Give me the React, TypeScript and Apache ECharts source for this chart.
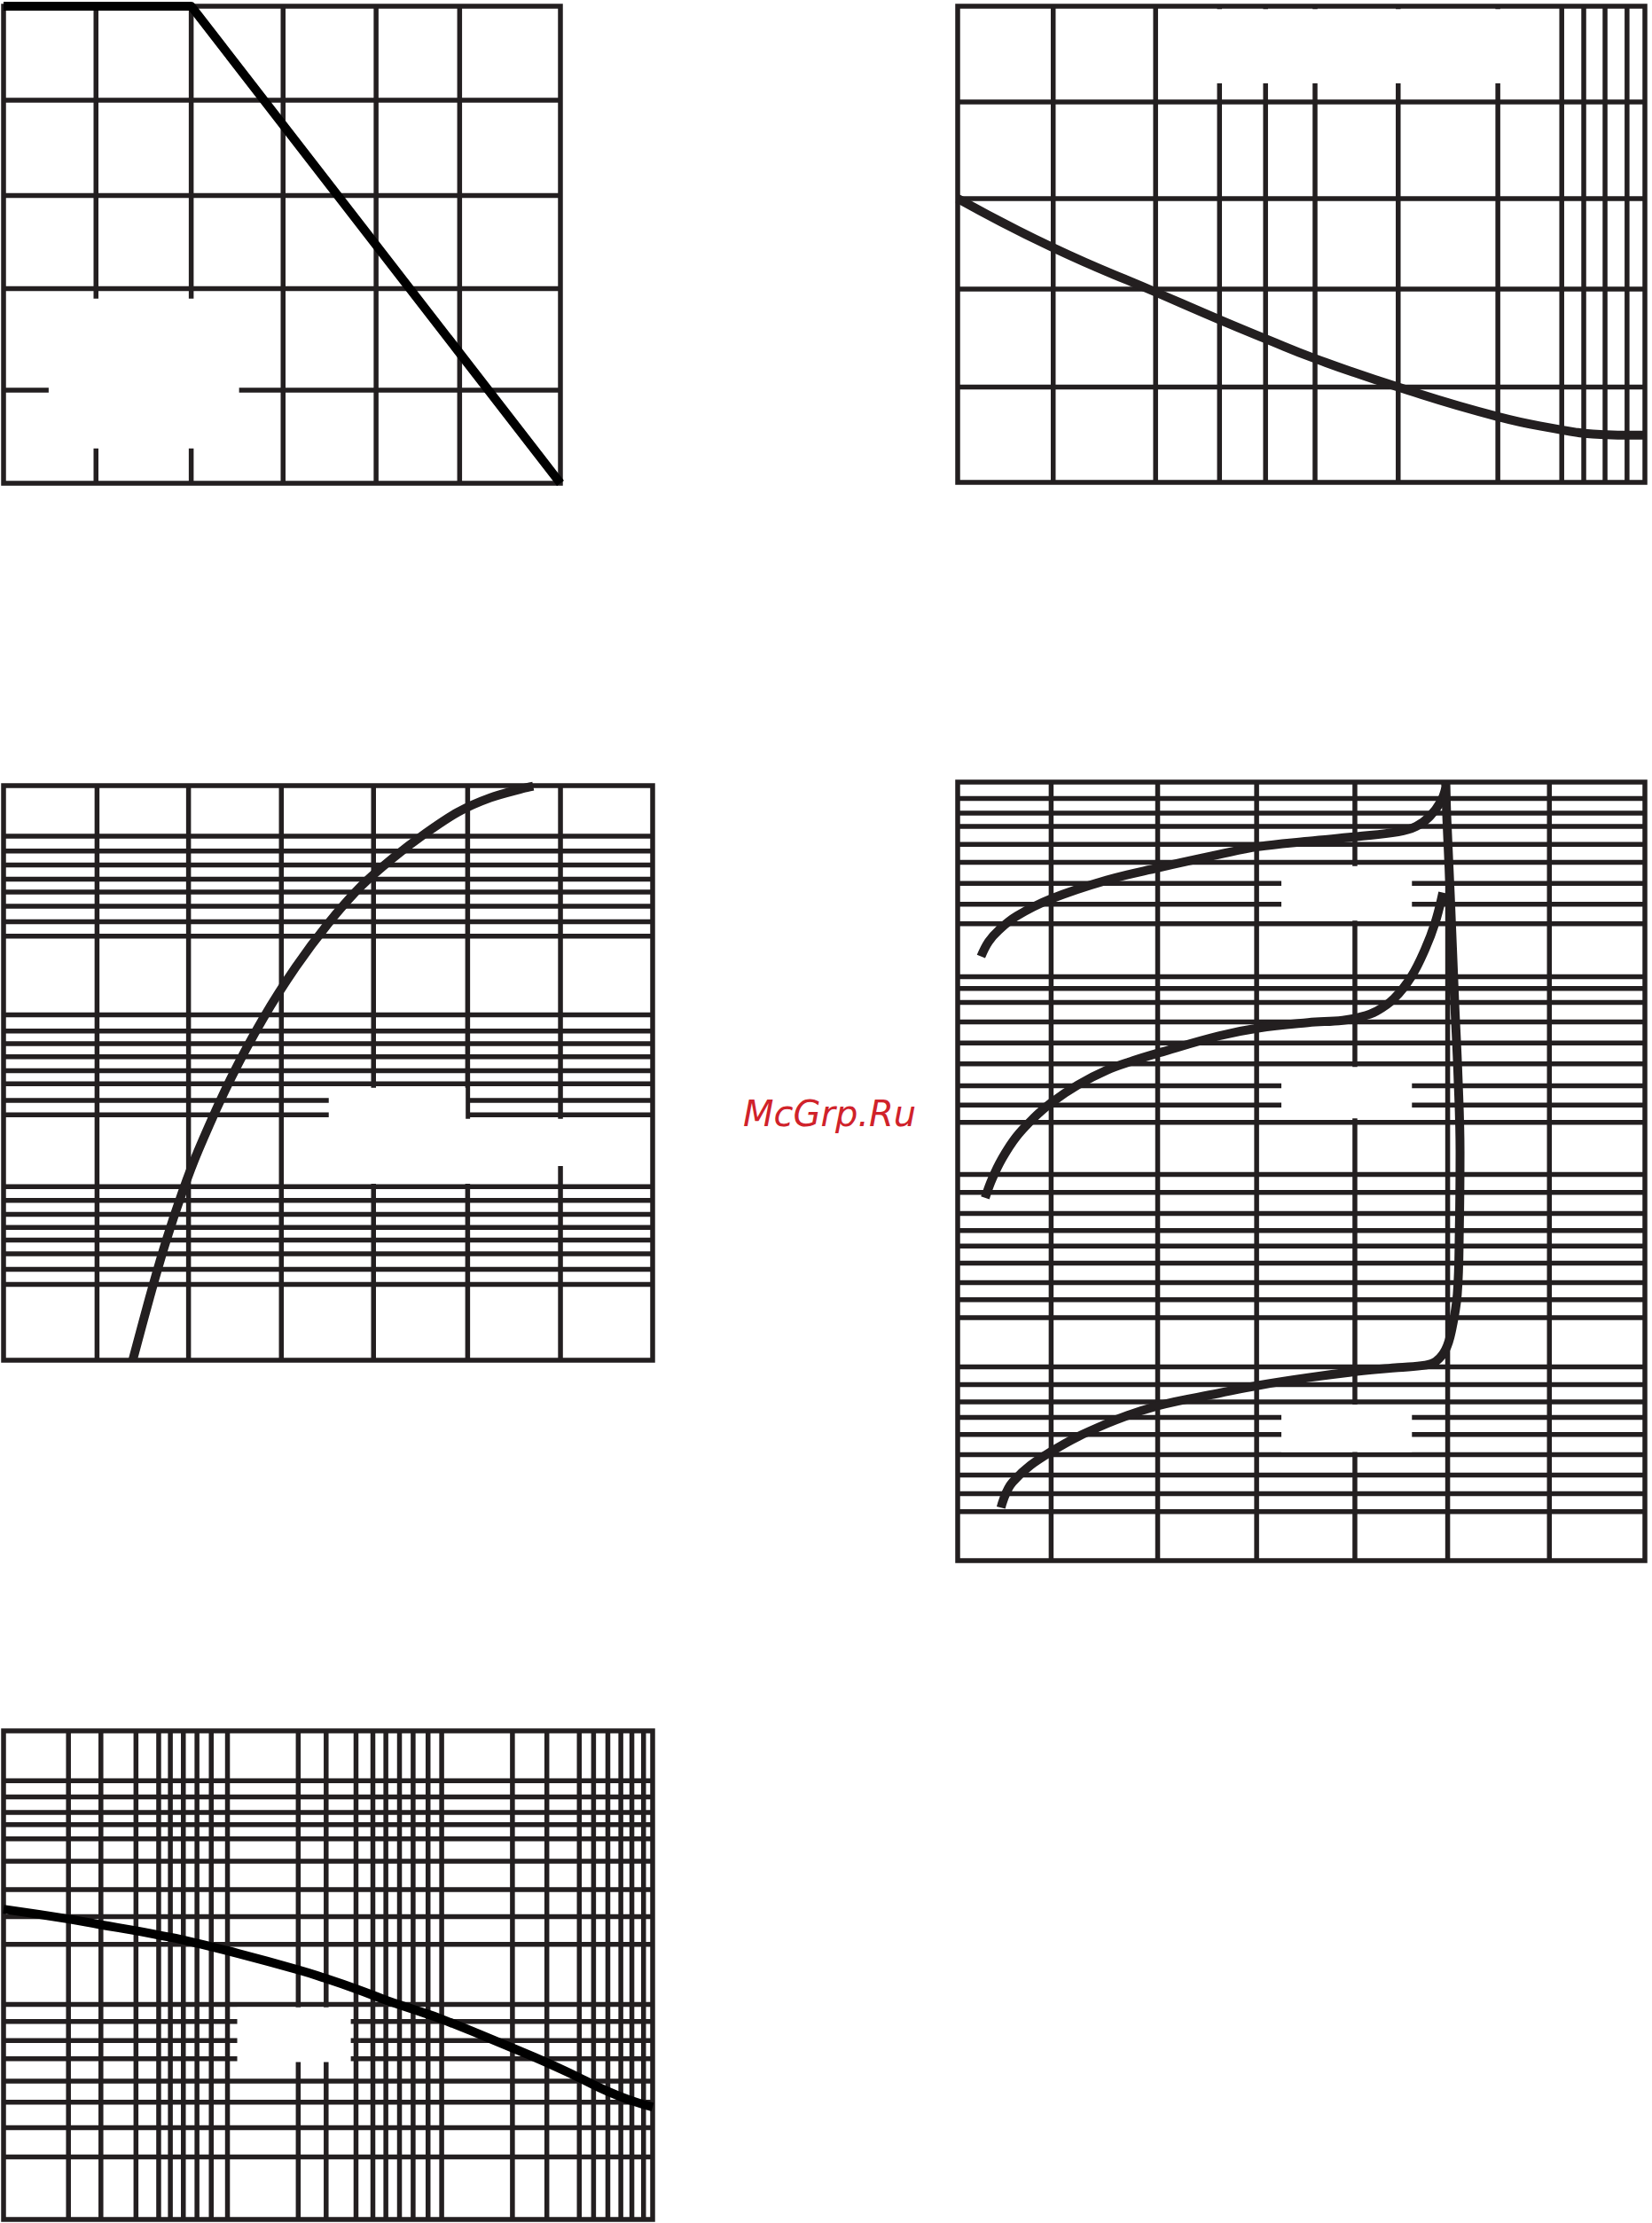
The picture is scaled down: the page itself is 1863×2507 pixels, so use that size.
import React, { useEffect, useRef } from "react";
import * as echarts from "echarts";

// ---------- data (positions in % of each panel; y measured from the top) ----------
// Panel 1 (top-left)
const p1VLines = [16.6, 33.7, 50.2, 66.9, 81.9];
const p1HLines = [19.7, 39.7, 59.2, 80.5];
const p1Blanks = [[8.1, 61.3, 42.3, 92.7]];
const p1CurveX = [0, 33.7, 100];
const p1CurveY = [0, 0, 100];

// Panel 2 (top-right)
const p2VLines = [13.9, 28.8, 38.1, 44.8, 52.0, 64.1, 78.6, 87.9, 91.1, 94.2, 97.4];
const p2HLines = [20.1, 40.4, 59.4, 80.0];
const p2Blanks = [[29.3, 0.6, 87.4, 16.2]];
const p2CurveX = [0, 14.0, 28.9, 38.2, 44.9, 52.0, 64.1, 78.6, 87.9, 91.2, 94.4, 97.7, 100];
const p2CurveY = [40.4, 50.8, 60.1, 65.9, 69.9, 74.0, 80.0, 86.2, 89.0, 89.7, 90.0, 90.1, 90.1];

// Panel 3 (middle-left)
const p3VLines = [14.4, 28.5, 42.8, 57.0, 71.5, 85.8];
const p3HLines = [
  8.8, 11.4, 13.8, 16.3, 18.5, 21.0, 23.7, 26.2,
  39.9, 42.7, 44.9, 47.2, 49.6, 51.9, 54.8, 57.3,
  69.8, 72.2, 74.6, 76.9, 79.1, 81.5, 84.2, 86.8,
];
const p3Blanks = [
  [50.1, 52.6, 71.2, 58.6],
  [43.4, 58.0, 99.5, 66.2],
  [43.4, 65.8, 85.3, 69.3],
];
const p3CurveX = [19.9, 22.5, 25, 27.5, 30, 35, 40, 45, 50, 55, 60, 65, 70, 75, 80, 81.6];
const p3CurveY = [100, 89.1, 79.4, 70.9, 63.5, 51.0, 40.5, 31.6, 24.0, 17.6, 12.6, 8.3, 4.6, 2.1, 0.5, 0.1];

// Panel 4 (middle-right)
const p4VLines = [13.6, 29.1, 43.5, 57.8, 71.3, 86.1];
const p4HLines = [
  2.1, 4.0, 5.7, 8.0, 10.3, 13.0, 15.7, 18.2,
  25.0, 26.5, 28.3, 30.8, 33.5, 36.2, 39.0, 41.5, 43.7,
  50.4, 52.7, 55.4, 57.6, 59.6, 61.8, 64.3, 66.5, 68.8,
  75.1, 77.4, 79.6, 81.6, 83.8, 86.4, 89.0, 91.4, 93.7,
];
const p4Blanks = [
  [47.1, 10.8, 66.1, 17.8],
  [47.1, 36.6, 66.1, 43.2],
  [47.1, 79.95, 66.1, 86.05],
];
const p4Curve1X = [3.4, 4.5, 6.0, 8.6, 13.6, 21.7, 29.2, 38.0, 43.7, 51.0, 58.1, 64.1, 66.7, 68.7, 70.3, 71.0];
const p4Curve1Y = [22.4, 20.5, 19.0, 17.2, 15.0, 12.6, 11.0, 9.3, 8.3, 7.6, 7.0, 6.4, 5.7, 4.4, 2.5, 0.8];
const p4Curve2X = [4.0, 5.0, 6.5, 8.5, 11.0, 13.6, 17.5, 21.7, 25.5, 29.2, 38.0, 43.7, 51.0, 56.0, 58.5, 61.0, 63.5, 66.0, 68.0, 69.5, 70.6];
const p4Curve2Y = [53.4, 51.0, 48.3, 45.6, 43.2, 41.2, 38.9, 37.0, 35.8, 34.8, 32.6, 31.6, 30.9, 30.6, 30.2, 29.4, 27.8, 25.0, 21.5, 18.0, 14.2];
const p4Curve3X = [6.3, 8.0, 13.6, 21.7, 29.2, 38.0, 43.7, 51.0, 58.1, 64.1, 68.0, 69.6, 71.0, 71.9, 72.7, 73.0, 73.1, 72.8, 72.3, 71.7, 71.2, 71.0];
const p4Curve3Y = [93.2, 89.9, 86.0, 82.4, 80.1, 78.5, 77.5, 76.5, 75.7, 75.2, 74.9, 74.4, 72.9, 70.3, 65.8, 57.3, 47.5, 37.7, 27.9, 14.9, 5.1, 0];

// Panel 5 (bottom-left)
const p5VLines = [
  10.0, 15.0, 20.4, 23.9, 25.7, 27.7, 29.8, 32.0, 34.5,
  45.4, 49.7, 54.3, 56.9, 58.9, 61.0, 63.1, 65.4, 67.5,
  78.4, 83.7, 88.7, 90.9, 93.1, 95.1, 96.8, 98.6,
];
const p5HLines = [10.2, 13.5, 16.7, 19.2, 22.1, 26.7, 32.5, 38.0, 43.7, 56.0, 59.5, 63.4, 67.1, 71.7, 76.0, 81.2, 87.2];
const p5Blanks = [[36.0, 56.6, 53.5, 67.8]];
const p5CurveX = [0, 10.0, 15.0, 20.4, 23.9, 27.7, 34.5, 45.4, 49.7, 54.3, 58.9, 63.1, 67.5, 78.4, 83.7, 88.7, 93.1, 96.8, 100];
const p5CurveY = [36.5, 38.5, 39.7, 40.9, 41.8, 42.8, 45.0, 48.9, 50.7, 52.8, 55.1, 57.0, 59.0, 64.9, 67.9, 71.0, 73.8, 75.7, 77.0];

const watermark = "McGrp.Ru";

// ---------- styling / layout ----------
const GRID_COLOR = "#231f20";
const GRID_W = 5.5;
const CURVE_W = 10;

const panels = [
  { left: 4, top: 7, width: 628, height: 538 },
  { left: 1080, top: 7, width: 775, height: 537 },
  { left: 4, top: 886, width: 732, height: 648 },
  { left: 1080, top: 882, width: 775, height: 878 },
  { left: 4, top: 1952, width: 732, height: 551 },
];

const zip = (xs: number[], ys: number[]) => xs.map((x, i) => [x, ys[i]]);

function gridLineSeries(idx: number, vLines: number[], hLines: number[]) {
  const data = [
    ...vLines.map((v) => [v, 0, 0]),
    ...hLines.map((v) => [0, v, 1]),
  ];
  return {
    type: "custom",
    xAxisIndex: idx,
    yAxisIndex: idx,
    z: 1,
    silent: true,
    data,
    renderItem: (_p: any, api: any) => {
      const vert = api.value(2) === 0;
      let a: number[], b: number[];
      if (vert) {
        a = api.coord([api.value(0), 0]);
        b = api.coord([api.value(0), 100]);
      } else {
        a = api.coord([0, api.value(1)]);
        b = api.coord([100, api.value(1)]);
      }
      return {
        type: "line",
        shape: { x1: a[0], y1: a[1], x2: b[0], y2: b[1] },
        style: { stroke: GRID_COLOR, lineWidth: GRID_W, lineCap: "butt" },
      };
    },
  };
}

function rectSeries(idx: number, rects: number[][], z: number, fill: string, stroke: string | null) {
  return {
    type: "custom",
    xAxisIndex: idx,
    yAxisIndex: idx,
    z,
    silent: true,
    data: rects,
    renderItem: (_p: any, api: any) => {
      const a = api.coord([api.value(0), api.value(1)]);
      const b = api.coord([api.value(2), api.value(3)]);
      return {
        type: "rect",
        shape: {
          x: Math.min(a[0], b[0]),
          y: Math.min(a[1], b[1]),
          width: Math.abs(b[0] - a[0]),
          height: Math.abs(b[1] - a[1]),
        },
        style: stroke
          ? { fill: "none", stroke, lineWidth: GRID_W, lineJoin: "miter" }
          : { fill, stroke: null },
      };
    },
  };
}

function curveSeries(idx: number, xs: number[], ys: number[], color: string, smooth: number | boolean) {
  return {
    type: "line",
    xAxisIndex: idx,
    yAxisIndex: idx,
    z: 10,
    silent: true,
    clip: false,
    showSymbol: false,
    symbol: "none",
    smooth,
    emphasis: { disabled: true },
    lineStyle: { color, width: CURVE_W, cap: "butt", join: "round" },
    data: zip(xs, ys),
  };
}

export default function App() {
  const ref = useRef<HTMLDivElement>(null);

  useEffect(() => {
    if (!ref.current) return;
    const chart = echarts.init(ref.current, undefined, { renderer: "svg" });

    const grids = panels.map((p) => ({ ...p, containLabel: false, show: false }));
    const xAxes = panels.map((_, i) => ({
      type: "value",
      gridIndex: i,
      min: 0,
      max: 100,
      show: false,
      splitLine: { show: false },
    }));
    const yAxes = panels.map((_, i) => ({
      type: "value",
      gridIndex: i,
      min: 0,
      max: 100,
      inverse: true,
      show: false,
      splitLine: { show: false },
    }));

    const frames = [[0, 0, 100, 100]];

    const series: any[] = [
      gridLineSeries(0, p1VLines, p1HLines),
      rectSeries(0, p1Blanks, 2, "#ffffff", null),
      rectSeries(0, frames, 3, "none", GRID_COLOR),
      curveSeries(0, p1CurveX, p1CurveY, "#000000", false),

      gridLineSeries(1, p2VLines, p2HLines),
      rectSeries(1, p2Blanks, 2, "#ffffff", null),
      rectSeries(1, frames, 3, "none", GRID_COLOR),
      curveSeries(1, p2CurveX, p2CurveY, GRID_COLOR, true),

      gridLineSeries(2, p3VLines, p3HLines),
      rectSeries(2, p3Blanks, 2, "#ffffff", null),
      rectSeries(2, frames, 3, "none", GRID_COLOR),
      curveSeries(2, p3CurveX, p3CurveY, GRID_COLOR, 0.3),

      gridLineSeries(3, p4VLines, p4HLines),
      rectSeries(3, p4Blanks, 2, "#ffffff", null),
      rectSeries(3, frames, 3, "none", GRID_COLOR),
      curveSeries(3, p4Curve1X, p4Curve1Y, GRID_COLOR, 0.4),
      curveSeries(3, p4Curve2X, p4Curve2Y, GRID_COLOR, 0.4),
      curveSeries(3, p4Curve3X, p4Curve3Y, GRID_COLOR, 0.4),

      gridLineSeries(4, p5VLines, p5HLines),
      rectSeries(4, p5Blanks, 2, "#ffffff", null),
      rectSeries(4, frames, 3, "none", GRID_COLOR),
      curveSeries(4, p5CurveX, p5CurveY, "#000000", true),
    ];

    chart.setOption({
      animation: false,
      backgroundColor: "#ffffff",
      grid: grids,
      xAxis: xAxes,
      yAxis: yAxes,
      series,
      graphic: [
        {
          type: "text",
          x: 838,
          y: 1256,
          z: 20,
          silent: true,
          style: {
            text: watermark,
            fontFamily: "DejaVu Sans",
            fontStyle: "italic",
            fontSize: 40,
            fill: "#d0222a",
            align: "left",
            verticalAlign: "middle",
          },
        },
      ],
    });

    return () => chart.dispose();
  }, []);

  return (
    <div
      ref={ref}
      style={{ position: "absolute", left: 0, top: 0, width: 1863, height: 2507, background: "#fff" }}
    />
  );
}
